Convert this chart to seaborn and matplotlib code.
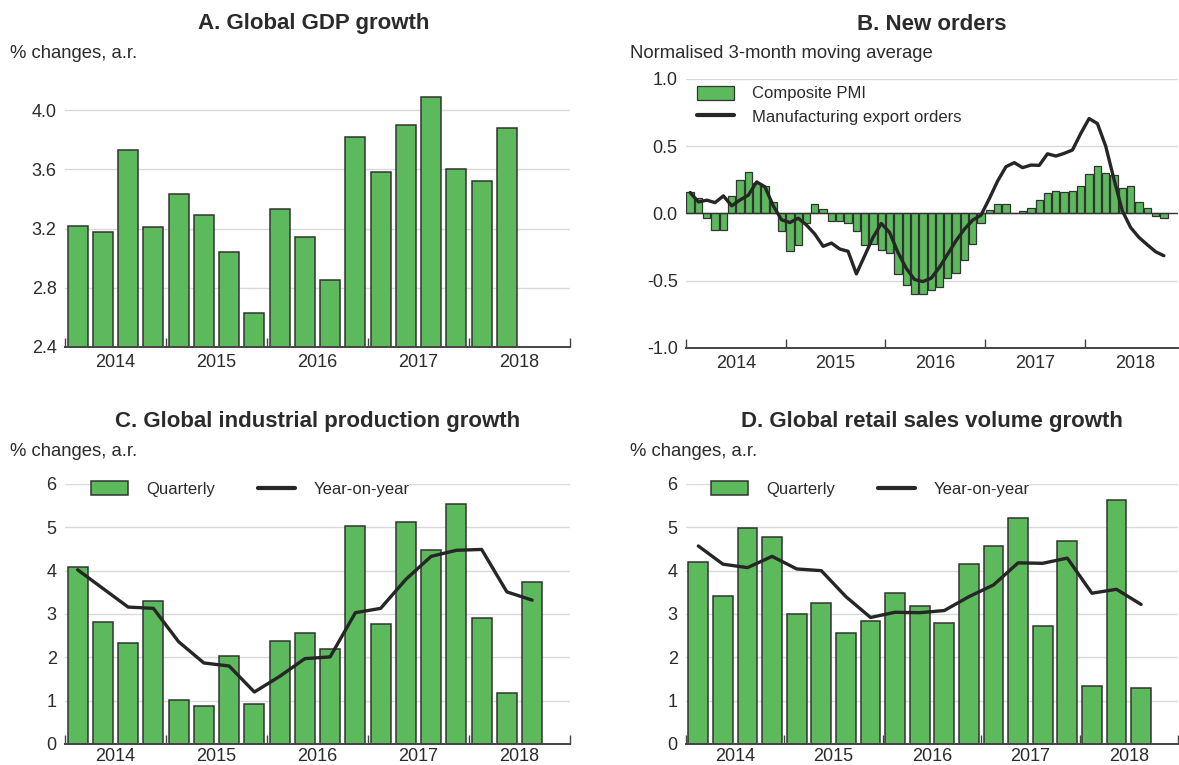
import numpy as np
import pandas as pd
import matplotlib
matplotlib.use("Agg")
import matplotlib.pyplot as plt
import seaborn as sns

# ---------------- data ----------------
years = ["2014", "2015", "2016", "2017", "2018"]

gdp_quarterly = [3.22, 3.18, 3.73, 3.21, 3.43, 3.29, 3.04, 2.63, 3.33, 3.14,
                 2.85, 3.82, 3.58, 3.90, 4.09, 3.60, 3.52, 3.88]

pmi_composite = [0.163, 0.118, -0.037, -0.123, -0.123, 0.131, 0.247, 0.309, 0.230, 0.205,
                 0.089, -0.133, -0.281, -0.235, -0.067, 0.074, 0.030, -0.059, -0.054, -0.074,
                 -0.128, -0.232, -0.227, -0.269, -0.296, -0.449, -0.528, -0.598, -0.602, -0.568,
                 -0.543, -0.479, -0.444, -0.346, -0.227, -0.074, 0.027, 0.067, 0.072, 0.005,
                 0.015, 0.044, 0.104, 0.151, 0.168, 0.160, 0.170, 0.207, 0.296, 0.351,
                 0.304, 0.289, 0.193, 0.202, 0.089, 0.042, -0.020, -0.035]

mfg_export_orders = [0.156, 0.086, 0.099, 0.081, 0.131, 0.057, 0.101, 0.136, 0.235, 0.198,
                     0.057, -0.047, -0.067, -0.035, -0.086, -0.153, -0.244, -0.220, -0.264, -0.281,
                     -0.449, -0.314, -0.178, -0.074, -0.141, -0.289, -0.407, -0.491, -0.506, -0.481,
                     -0.400, -0.301, -0.202, -0.116, -0.049, -0.012, 0.111, 0.242, 0.348, 0.378,
                     0.341, 0.360, 0.358, 0.444, 0.427, 0.447, 0.472, 0.595, 0.706, 0.669,
                     0.501, 0.254, 0.020, -0.104, -0.178, -0.232, -0.284, -0.314]

ip_quarterly = [4.09, 2.82, 2.33, 3.30, 1.02, 0.87, 2.02, 0.92, 2.38, 2.56,
                2.20, 5.02, 2.78, 5.12, 4.48, 5.53, 2.91, 1.18, 3.73]
ip_yoy = [4.02, 3.59, 3.16, 3.13, 2.36, 1.87, 1.80, 1.20, 1.56, 1.97,
          2.01, 3.03, 3.13, 3.80, 4.33, 4.47, 4.49, 3.51, 3.32]

retail_quarterly = [4.19, 3.42, 4.99, 4.78, 3.00, 3.26, 2.57, 2.85, 3.48, 3.18,
                    2.80, 4.16, 4.58, 5.22, 2.73, 4.69, 1.33, 5.62, 1.30]
retail_yoy = [4.57, 4.15, 4.07, 4.33, 4.04, 4.00, 3.40, 2.92, 3.04, 3.03,
              3.08, 3.40, 3.67, 4.18, 4.17, 4.29, 3.48, 3.57, 3.22]

# ---------------- style ----------------
sns.set_theme(style="white")
plt.rcParams["font.family"] = ["Liberation Sans", "DejaVu Sans"]
TXT = "#2b2b2b"
GREEN = "#5cba5c"
EDGE = "#333333"
LINE = "#262626"
GRID = "#d9d9d9"
FS = 13
LFS = 12
W, H = 1179, 765

fig = plt.figure(figsize=(W / 100, H / 100), dpi=100)


def add_ax(x0, x1, ytop, ybot):
    return fig.add_axes([x0 / W, 1 - ybot / H, (x1 - x0) / W, (ybot - ytop) / H])


def style_axis(ax, n_units, per_year, ylim, yticks, yfmt, xmax, xpad):
    ax.set_xlim(-0.5, xmax)
    ax.set_ylim(*ylim)
    for s in ["left", "right", "top"]:
        ax.spines[s].set_visible(False)
    ax.spines["bottom"].set_color("#444444")
    ax.spines["bottom"].set_linewidth(1.4)
    ax.spines["bottom"].set_zorder(5)
    ax.set_yticks(yticks)
    ax.set_yticklabels([yfmt.format(v) for v in yticks])
    ax.yaxis.grid(True, color=GRID, linewidth=1.0)
    ax.set_axisbelow(True)
    ax.tick_params(axis="y", length=0, pad=6, labelsize=FS, labelcolor=TXT)
    # year labels at mid-year, quarter-boundary minor ticks
    mids = [per_year * i + (per_year - 1) / 2 for i in range(len(years))]
    ax.set_xticks(mids)
    ax.set_xticklabels(years)
    step = per_year // 4
    qb = [b - 0.5 for b in range(0, n_units + 1, step) if b % per_year != 0]
    ax.set_xticks(qb, minor=True)
    ax.tick_params(axis="x", which="major", length=0, pad=xpad, labelsize=FS, labelcolor=TXT)
    ax.tick_params(axis="x", which="minor", direction="in", length=3.5, width=1.0, color="#444444")
    # year boundary ticks
    sec = ax.secondary_xaxis("bottom")
    sec.set_xticks([per_year * i - 0.5 for i in range(len(years) + 1)])
    sec.set_xticklabels([])
    sec.tick_params(direction="in", length=6.5, width=1.0, color="#444444")
    sec.spines["bottom"].set_visible(False)
    ax.set_xlabel("")
    ax.set_ylabel("")


def add_legend(ax, loc, anchor, ncol, colspace=2.6, labelspacing=0.3):
    h, l = ax.get_legend_handles_labels()
    order = sorted(range(len(l)), key=lambda i: 1 if isinstance(h[i], matplotlib.lines.Line2D) else 0)
    leg = ax.legend([h[i] for i in order], [l[i] for i in order], loc=loc, bbox_to_anchor=anchor,
                    ncol=ncol, frameon=True, facecolor="white", edgecolor="none", framealpha=1,
                    fontsize=LFS, handlelength=2.2, handleheight=0.9, handletextpad=1.1,
                    columnspacing=colspace, borderpad=0.0, borderaxespad=0.0,
                    labelspacing=labelspacing, labelcolor=TXT, fancybox=False)
    leg.set_zorder(6)
    for hd in leg.legend_handles:
        if isinstance(hd, matplotlib.lines.Line2D):
            hd.set_linewidth(3.0)
    return leg


# ---------------- Panel A ----------------
axA = add_ax(65, 570, 79, 347)
dfA = pd.DataFrame({"q": np.arange(len(gdp_quarterly)), "v": gdp_quarterly})
sns.barplot(data=dfA, x="q", y="v", native_scale=True, width=0.8, color=GREEN, saturation=1,
            edgecolor=EDGE, linewidth=1.1, errorbar=None, ax=axA)
style_axis(axA, 20, 4, (2.4, 4.21), [2.4, 2.8, 3.2, 3.6, 4.0], "{:.1f}", 19.5, 5)

# ---------------- Panel B ----------------
axB = add_ax(686, 1178, 79, 348)
dfB = pd.DataFrame({"m": np.arange(len(pmi_composite)), "pmi": pmi_composite,
                    "exp": mfg_export_orders})
sns.barplot(data=dfB, x="m", y="pmi", native_scale=True, width=0.88, color=GREEN, saturation=1,
            edgecolor=EDGE, linewidth=0.9, errorbar=None, label="Composite PMI", ax=axB)
axB.axhline(0, color="#333333", linewidth=1.0, zorder=2.5)
sns.lineplot(data=dfB, x="m", y="exp", color=LINE, linewidth=2.4, label="Manufacturing export orders",
             ax=axB, zorder=4)
style_axis(axB, 60, 12, (-1.0, 1.0), [-1.0, -0.5, 0.0, 0.5, 1.0], "{:.1f}", 58.7, 5)
axB.yaxis.get_gridlines()[2].set_visible(False)
add_legend(axB, "upper left", ((697 - 686) / 492, 0.975), 1, labelspacing=0.45)

# ---------------- Panel C ----------------
axC = add_ax(65, 570, 484, 744)
dfC = pd.DataFrame({"q": np.arange(len(ip_quarterly)), "bar": ip_quarterly, "yoy": ip_yoy})
sns.barplot(data=dfC, x="q", y="bar", native_scale=True, width=0.8, color=GREEN, saturation=1,
            edgecolor=EDGE, linewidth=1.1, errorbar=None, label="Quarterly", ax=axC)
sns.lineplot(data=dfC, x="q", y="yoy", color=LINE, linewidth=2.4, label="Year-on-year", ax=axC, zorder=4)
style_axis(axC, 20, 4, (0, 6.0), [0, 1, 2, 3, 4, 5, 6], "{:d}", 19.5, 3)
add_legend(axC, "center left", ((91 - 65) / 505, (744 - 489) / 260), 2)

# ---------------- Panel D ----------------
axD = add_ax(686, 1178, 484, 744)
dfD = pd.DataFrame({"q": np.arange(len(retail_quarterly)), "bar": retail_quarterly, "yoy": retail_yoy})
sns.barplot(data=dfD, x="q", y="bar", native_scale=True, width=0.8, color=GREEN, saturation=1,
            edgecolor=EDGE, linewidth=1.1, errorbar=None, label="Quarterly", ax=axD)
sns.lineplot(data=dfD, x="q", y="yoy", color=LINE, linewidth=2.4, label="Year-on-year", ax=axD, zorder=4)
style_axis(axD, 20, 4, (0, 6.0), [0, 1, 2, 3, 4, 5, 6], "{:d}", 19.5, 3)
add_legend(axD, "center left", ((711 - 686) / 492, (744 - 489) / 260), 2)

# ---------------- titles and unit labels ----------------
titles = [("A. Global GDP growth", (65 + 570) / 2 - 4, 24),
          ("B. New orders", (686 + 1178) / 2, 24),
          ("C. Global industrial production growth", (65 + 570) / 2, 421),
          ("D. Global retail sales volume growth", (686 + 1178) / 2, 421)]
for t, x, y in titles:
    fig.text(x / W, 1 - y / H, t, ha="center", va="center", fontsize=16, fontweight="bold", color=TXT)

units = [("% changes, a.r.", 10, 53), ("Normalised 3-month moving average", 630, 53),
         ("% changes, a.r.", 10, 451), ("% changes, a.r.", 630, 451)]
for t, x, y in units:
    fig.text(x / W, 1 - y / H, t, ha="left", va="center", fontsize=13.3, color=TXT)

fig.savefig("out.png", dpi=100, facecolor="white")
